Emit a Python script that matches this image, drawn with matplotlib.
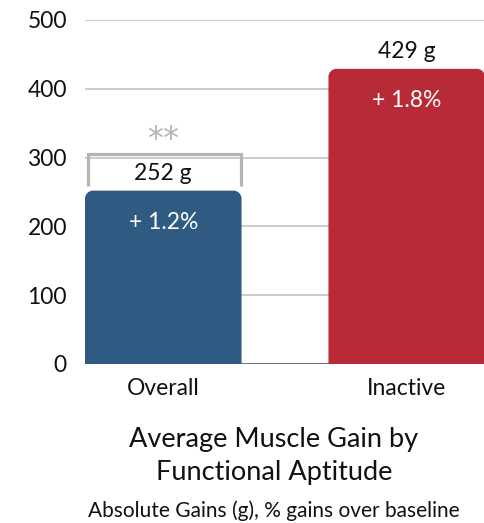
import matplotlib
matplotlib.use("Agg")
import matplotlib.pyplot as plt
from matplotlib.path import Path
from matplotlib.patches import PathPatch

# Data
categories = ["Overall", "Inactive"]
gains_g = [252, 429]
pct_labels = ["+ 1.2%", "+ 1.8%"]
bar_colors = ["#2f5b82", "#b82a36"]
yticks = [0, 100, 200, 300, 400, 500]
sig_label = "**"
bracket_span = (-0.31, 0.32)
bracket_y = (258, 305)

title_lines = ["Average Muscle Gain by", "Functional Aptitude"]
subtitle = "Absolute Gains (g), % gains over baseline"

plt.rcParams['font.family'] = ['Lato', 'DejaVu Sans']

W, H = 485, 523
fig = plt.figure(figsize=(W / 100, H / 100), dpi=100)
ax = fig.add_axes([85 / W, 159 / H, 400 / W, 344 / H])

bar_w = 0.643
ax.set_xlim(-bar_w / 2, len(categories) - 1 + bar_w / 2)
ax.set_ylim(0, 500)


def rounded_bar(ax, x, h, w, color, r_px=8):
    t = ax.transData
    sx = t.transform((1, 0))[0] - t.transform((0, 0))[0]
    sy = t.transform((0, 1))[1] - t.transform((0, 0))[1]
    rx, ry = r_px / sx, r_px / sy
    k = 0.5523
    x0, x1 = x - w / 2, x + w / 2
    verts = [(x0, 0), (x0, h - ry),
             (x0, h - ry + k * ry), (x0 + rx - k * rx, h), (x0 + rx, h),
             (x1 - rx, h),
             (x1 - rx + k * rx, h), (x1, h - ry + k * ry), (x1, h - ry),
             (x1, 0), (x0, 0)]
    codes = [Path.MOVETO, Path.LINETO,
             Path.CURVE4, Path.CURVE4, Path.CURVE4,
             Path.LINETO,
             Path.CURVE4, Path.CURVE4, Path.CURVE4,
             Path.LINETO, Path.CLOSEPOLY]
    ax.add_patch(PathPatch(Path(verts, codes), facecolor=color,
                           edgecolor="none", zorder=3))


# grid
for y in yticks[1:]:
    ax.axhline(y, color="#c4c4c4", lw=1.2, zorder=1)
ax.axhline(0, color="#666666", lw=1.3, zorder=2)

for i, (v, c) in enumerate(zip(gains_g, bar_colors)):
    rounded_bar(ax, i, v, bar_w, c)
    ax.annotate(f"{v} g", (i, v), xytext=(0, 8), textcoords="offset points",
                ha="center", va="baseline", fontsize=16.5, color="#111111",
                zorder=5)
    ax.annotate(pct_labels[i], (i, v), xytext=(0, -27.5), textcoords="offset points",
                ha="center", va="baseline", fontsize=16.5, color="white",
                zorder=5)

# significance bracket
bx0, bx1 = bracket_span
by0, by1 = bracket_y
ax.plot([bx0, bx0, bx1, bx1], [by0, by1, by1, by0], color="#b5b5b5",
        lw=2.3, solid_joinstyle="miter", solid_capstyle="butt", zorder=4)
ax.text((bx0 + bx1) / 2 - 0.005, 326, sig_label, ha="center", va="center",
        fontsize=23, color="#b5b5b5", family="DejaVu Sans", zorder=5)

ax.set_xticks(range(len(categories)))
ax.set_xticklabels(categories)
ax.set_yticks(yticks)
ax.tick_params(axis="y", length=0, pad=13, labelsize=16.5, labelcolor="#111111")
ax.tick_params(axis="x", length=0, pad=10, labelsize=16.5, labelcolor="#111111")
for s in ax.spines.values():
    s.set_visible(False)

cx = 274 / W
fig.text(cx, 1 - 447 / H, title_lines[0], ha="center", va="baseline",
         fontsize=19.5, color="#111111")
fig.text(cx, 1 - 480 / H, title_lines[1], ha="center", va="baseline",
         fontsize=19.5, color="#111111")
fig.text(cx, 1 - 517 / H, subtitle, ha="center", va="baseline",
         fontsize=15, color="#111111")

fig.savefig("out.png", dpi=100)
